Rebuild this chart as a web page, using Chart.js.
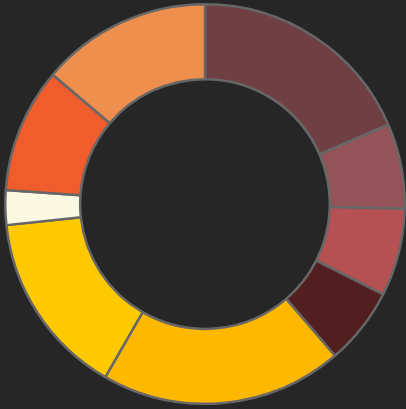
<!DOCTYPE html>
<html>
<head>
<meta charset="utf-8">
<script src="https://cdn.jsdelivr.net/npm/chart.js@4/dist/chart.umd.min.js"></script>
<style>
  html, body { margin: 0; padding: 0; background: #262626; }
  #wrap { width: 406px; height: 409px; }
</style>
</head>
<body>
<div id="wrap"><canvas id="chart"></canvas></div>
<script>
const labels = ["A", "B", "C", "D", "E", "F", "G", "H", "I"];
const values = [18.5, 6.9, 7.1, 6.25, 19.6, 15.0, 2.8, 10.1, 13.8];
const colors = ["#6f3f43", "#935359", "#b55152", "#521f21", "#ffb800", "#ffc900", "#fbf9e1", "#f05d2c", "#ee8f4e"];

const ctx = document.getElementById("chart").getContext("2d");
new Chart(ctx, {
  type: "doughnut",
  data: {
    labels: labels,
    datasets: [
      {
        data: values,
        backgroundColor: colors,
        borderColor: "#676767",
        borderWidth: 2.5,
      },
    ],
  },
  options: {
    responsive: true,
    maintainAspectRatio: false,
    animation: false,
    cutout: "62.5%",
    layout: { padding: { left: 4, top: 1, bottom: 2 } },
    plugins: {
      legend: { display: false },
      tooltip: { enabled: false },
    },
  },
});
</script>
</body>
</html>
